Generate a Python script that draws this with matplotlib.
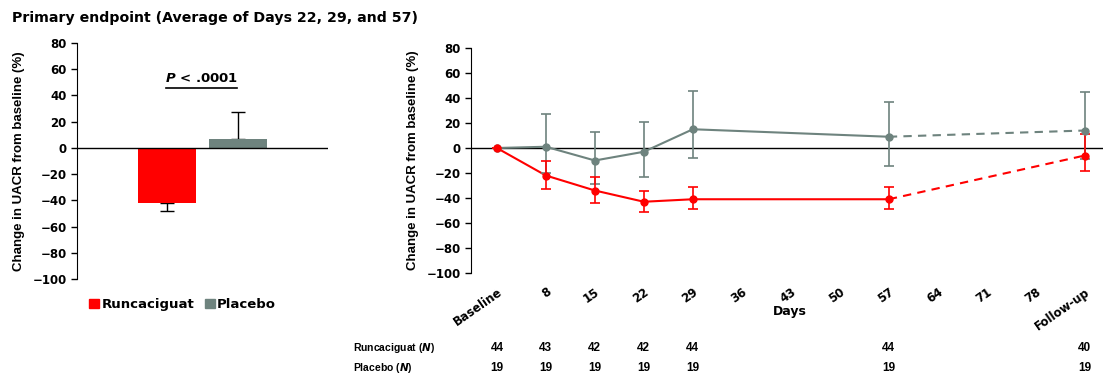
import matplotlib.pyplot as plt
from matplotlib.patches import Patch
from matplotlib.transforms import blended_transform_factory

plt.rcParams['font.family'] = ['DejaVu Sans']
plt.rcParams['font.weight'] = 'bold'
NARROW = ['Liberation Sans', 'DejaVu Sans']

RED = '#ff0000'
GREY = '#6e837e'

# bar panel: mean over days 22, 29, 57
groups = ['Runcaciguat', 'Placebo']
bar_vals = [-42, 7]
bar_err_lo = [6, 0]
bar_err_hi = [0, 20]

# time course
day_pos = [1, 8, 15, 22, 29, 36, 43, 50, 57, 64, 71, 78, 85]
day_labels = ['Baseline', '8', '15', '22', '29', '36', '43', '50', '57',
              '64', '71', '78', 'Follow-up']
obs_days = [1, 8, 15, 22, 29, 57, 85]

runc_mean = [0, -22, -34, -43, -41, -41, -6]
runc_lo = [0, 11, 10, 8, 8, 8, 12]
runc_hi = [0, 12, 11, 9, 10, 10, 17]

plac_mean = [0, 1, -10, -3, 15, 9, 14]
plac_lo = [0, 21, 19, 20, 23, 23, 23]
plac_hi = [0, 26, 23, 24, 31, 28, 31]

n_runc = [44, 43, 42, 42, 44, 44, 40]
n_plac = [19, 19, 19, 19, 19, 19, 19]

fig = plt.figure(figsize=(11.03, 3.75), dpi=100)
fig.text(0.011, 0.952, 'Primary endpoint (Average of Days 22, 29, and 57)',
         fontsize=10.2, fontweight='bold', va='center')

yticks = list(range(-100, 81, 20))
ytlabels = [str(t).replace('-', '\u2212') for t in yticks]

# ---- left: bar chart
ax1 = fig.add_axes([0.0698, 0.256, 0.2276, 0.6293])
ax1.bar([0, 1], bar_vals, width=0.82, color=[RED, GREY], zorder=2)
ax1.errorbar([0, 1], bar_vals, yerr=[bar_err_lo, bar_err_hi], fmt='none',
             ecolor='black', elinewidth=1, capsize=5, capthick=1, zorder=1)
ax1.axhline(0, color='black', lw=1, zorder=3)
ax1.set_xlim(-1.27, 2.27)
ax1.set_ylim(-100, 80)
ax1.set_yticks(yticks)
ax1.set_yticklabels(ytlabels)
ax1.set_xticks([])
for s in ['top', 'right', 'bottom']:
    ax1.spines[s].set_visible(False)
ax1.tick_params(axis='y', labelsize=8.5, direction='out', length=4, width=1)
ax1.set_ylabel('Change in UACR from baseline (%)', fontsize=9.5,
               fontweight='bold', family=NARROW, labelpad=5)
ax1.plot([-0.015, 0.985], [46, 46], color='black', lw=1.2)
ax1.text(0.485, 53, r'$\it{P}$ < .0001', ha='center', va='center',
         fontsize=9.5, fontweight='bold')
ax1.legend(handles=[Patch(color=RED, label=groups[0]),
                    Patch(color=GREY, label=groups[1])],
           loc='upper left', bbox_to_anchor=(0.0, -0.03), ncol=2,
           frameon=False, handlelength=0.75, handleheight=0.75,
           handletextpad=0.2, columnspacing=0.8,
           prop={'weight': 'bold', 'size': 9.5})

# ---- right: time course
ax2 = fig.add_axes([0.427, 0.272, 0.573, 0.6])
ax2.axhline(0, color='black', lw=1, zorder=1)
for mean, lo, hi, c in [(plac_mean, plac_lo, plac_hi, GREY),
                        (runc_mean, runc_lo, runc_hi, RED)]:
    ax2.plot(obs_days[:-1], mean[:-1], color=c, lw=1.5, zorder=3)
    ax2.plot(obs_days[-2:], mean[-2:], color=c, lw=1.5, ls=(0, (4, 3)), zorder=3)
    ax2.errorbar(obs_days, mean, yerr=[lo, hi], fmt='o', color=c, ms=5,
                 elinewidth=1.2, capsize=3.5, capthick=1.2, zorder=4)
ax2.set_xlim(-2.7, 87.6)
ax2.set_ylim(-100, 80)
ax2.set_yticks(yticks)
ax2.set_yticklabels(ytlabels)
ax2.set_xticks(day_pos)
ax2.set_xticklabels(day_labels, rotation=35, ha='right', rotation_mode='anchor')
for s in ['top', 'right', 'bottom']:
    ax2.spines[s].set_visible(False)
ax2.tick_params(axis='y', labelsize=8.5, direction='out', length=4, width=1)
ax2.tick_params(axis='x', labelsize=8.5, length=0, pad=9)
ax2.set_ylabel('Change in UACR from baseline (%)', fontsize=9.5,
               fontweight='bold', family=NARROW, labelpad=5)
ax2.text(0.505, -0.173, 'Days', transform=ax2.transAxes, ha='center',
         va='center', fontsize=9, fontweight='bold')

tr = blended_transform_factory(ax2.transData, ax2.transAxes)
ax2.text(-0.187, -0.333, r'Runcaciguat ($\it{N}$)', transform=ax2.transAxes,
         ha='left', va='center', fontsize=7.5, family=NARROW)
ax2.text(-0.187, -0.422, r'Placebo ($\it{N}$)', transform=ax2.transAxes,
         ha='left', va='center', fontsize=7.5, family=NARROW)
for d, a, b in zip(obs_days, n_runc, n_plac):
    ax2.text(d, -0.333, str(a), transform=tr, ha='center', va='center',
             fontsize=8.5, family=NARROW)
    ax2.text(d, -0.422, str(b), transform=tr, ha='center', va='center',
             fontsize=8.5, family=NARROW)

fig.savefig('out.png', dpi=100)
